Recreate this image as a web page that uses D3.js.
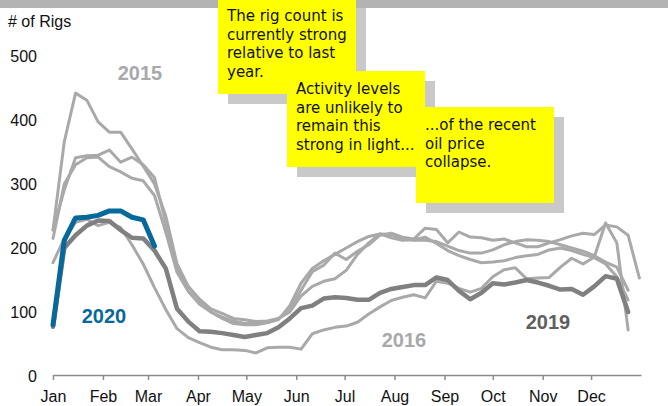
<!DOCTYPE html>
<html>
<head>
<meta charset="utf-8">
<script src="https://cdn.jsdelivr.net/npm/d3@7"></script>
<style>
  html, body { margin: 0; padding: 0; background: #fff; }
  svg { display: block; }
  .axis text { font-family: "Liberation Sans", Arial, sans-serif; font-size: 16px; fill: #111; }
  .note { font-family: "DejaVu Sans", sans-serif; font-size: 15px; fill: #111; }
  .yr { font-family: "Liberation Sans", Arial, sans-serif; font-size: 20px; font-weight: bold; }
</style>
</head>
<body>
<svg id="chart" width="668" height="406"></svg>
<script>
// Weekly Canadian rig counts, one value per week starting the first week of January.
const rigs2015 = [228, 366, 442, 431, 397, 381, 381, 355, 328, 300, 250, 175, 140, 118, 100, 92, 86, 82, 83, 84,
  90, 103, 134, 163, 173, 192, 182, 195, 205, 220, 223, 217, 214, 231, 229, 208, 225, 217, 216, 212,
  214, 208, 202, 202, 208, 213, 219, 223, 221, 236, 233, 220, 153];
const rigs2016 = [177, 215, 240, 245, 235, 240, 232, 205, 175, 138, 104, 74, 60, 52, 45, 41, 41, 40, 36, 44,
  45, 45, 42, 66, 72, 76, 78, 84, 97, 108, 118, 123, 127, 122, 148, 145, 137, 131, 137, 155,
  166, 169, 152, 153, 154, 170, 184, 175, 186, 239, 208, 72];
const rigs2017 = [228, 291, 341, 344, 345, 353, 334, 342, 330, 310, 240, 165, 140, 120, 105, 98, 90, 88, 85, 86,
  90, 100, 125, 140, 148, 152, 165, 190, 208, 222, 216, 212, 213, 217, 207, 196, 188, 182, 177, 178,
  180, 185, 188, 190, 197, 200, 196, 190, 185, 175, 155, 119];
const rigs2018 = [215, 300, 330, 341, 342, 327, 319, 309, 305, 282, 225, 162, 132, 112, 100, 90, 82, 80, 80, 83,
  88, 110, 145, 168, 180, 190, 200, 210, 218, 222, 221, 215, 212, 212, 210, 203, 196, 192, 192, 197,
  205, 210, 213, 212, 210, 205, 200, 195, 188, 178, 170, 134];
const rigs2019 = [77, 200, 220, 235, 243, 242, 228, 216, 215, 196, 168, 105, 85, 70, 69, 67, 64, 61, 64, 67,
  76, 90, 106, 110, 121, 123, 122, 119, 119, 130, 136, 139, 142, 142, 154, 150, 133, 120, 130, 145,
  143, 146, 150, 146, 141, 135, 136, 127, 140, 156, 152, 100];
const rigs2020 = [80, 212, 247, 248, 251, 258, 258, 248, 244, 203];

const monthLabels = ["Jan", "Feb", "Mar", "Apr", "May", "Jun", "Jul", "Aug", "Sep", "Oct", "Nov", "Dec"];
const yTicks = [0, 100, 200, 300, 400, 500];

const notes = [
  { lines: ["The rig count is", "currently strong", "relative to last", "year."], x: 218, y: -2, w: 138, h: 96 },
  { lines: ["Activity levels", "are unlikely to", "remain this", "strong in light..."], x: 287, y: 71, w: 138, h: 96 },
  { lines: ["...of the recent", "oil price", "collapse."], x: 416, y: 107, w: 138, h: 96 }
];

const svg = d3.select("#chart");

const yearStart = new Date(Date.UTC(2019, 0, 1));
const yearEnd = new Date(Date.UTC(2020, 0, 1));
const x = d3.scaleUtc().domain([yearStart, yearEnd]).range([53, 641]);
const y = d3.scaleLinear().domain([0, 500]).range([376, 56]);

// thin gray band along the top edge
svg.append("rect").attr("x", 0).attr("y", 0).attr("width", 668).attr("height", 8).attr("fill", "#b3b3b3");

// y axis: labels only
const yAxis = svg.append("g").attr("class", "axis").attr("transform", "translate(45,0)")
  .call(d3.axisLeft(y).tickValues(yTicks).tickSize(0).tickPadding(8));
yAxis.select(".domain").remove();

// x axis with month ticks
const months = d3.utcMonths(yearStart, yearEnd);
const xAxis = svg.append("g").attr("class", "axis").attr("transform", "translate(0,375)")
  .call(d3.axisBottom(x).tickValues(months).tickSizeInner(5).tickSizeOuter(0).tickPadding(11)
    .tickFormat((d, i) => monthLabels[i]));
xAxis.select(".domain").attr("stroke", "#8c8c8c").attr("stroke-width", 1.5);
xAxis.selectAll(".tick line").attr("stroke", "#8c8c8c").attr("stroke-width", 1.5);

svg.append("text").attr("x", 8).attr("y", 27)
  .style("font-family", "Liberation Sans, Arial, sans-serif").style("font-size", "16px").attr("fill", "#111")
  .text("# of Rigs");

const line = d3.line()
  .x((d, i) => x(d3.utcDay.offset(yearStart, 7 * i)))
  .y(d => y(d));

const series = [
  { values: rigs2015, color: "#a9a9a9", width: 3 },
  { values: rigs2016, color: "#a9a9a9", width: 3 },
  { values: rigs2017, color: "#a9a9a9", width: 3 },
  { values: rigs2018, color: "#a9a9a9", width: 3 },
  { values: rigs2019, color: "#808080", width: 4.5 },
  { values: rigs2020, color: "#07689c", width: 5 }
];

svg.append("g").selectAll("path").data(series).join("path")
  .attr("d", d => line(d.values))
  .attr("fill", "none")
  .attr("stroke", d => d.color)
  .attr("stroke-width", d => d.width)
  .attr("stroke-linejoin", "round")
  .attr("stroke-linecap", "round");

// year labels
const yearLabels = [
  { text: "2015", x: 140, y: 80, color: "#a9a9a9" },
  { text: "2016", x: 404, y: 347, color: "#a9a9a9" },
  { text: "2019", x: 548, y: 329, color: "#5f5f5f" },
  { text: "2020", x: 104, y: 323, color: "#07689c" }
];
svg.append("g").selectAll("text").data(yearLabels).join("text")
  .attr("class", "yr").attr("text-anchor", "middle")
  .attr("x", d => d.x).attr("y", d => d.y).attr("fill", d => d.color).text(d => d.text);

// callout notes with drop shadows
const noteG = svg.append("g").selectAll("g").data(notes).join("g");
noteG.append("rect").attr("x", d => d.x + 10).attr("y", d => d.y + 10)
  .attr("width", d => d.w).attr("height", d => d.h).attr("fill", "#c9c9c9");
noteG.append("rect").attr("x", d => d.x).attr("y", d => d.y)
  .attr("width", d => d.w).attr("height", d => d.h).attr("fill", "#ffff00");
noteG.each(function (d) {
  const t = d3.select(this).append("text").attr("class", "note");
  d.lines.forEach((s, i) => {
    t.append("tspan").attr("x", d.x + 9).attr("y", d.y + 23 + i * 18.5).text(s);
  });
});
</script>
</body>
</html>
